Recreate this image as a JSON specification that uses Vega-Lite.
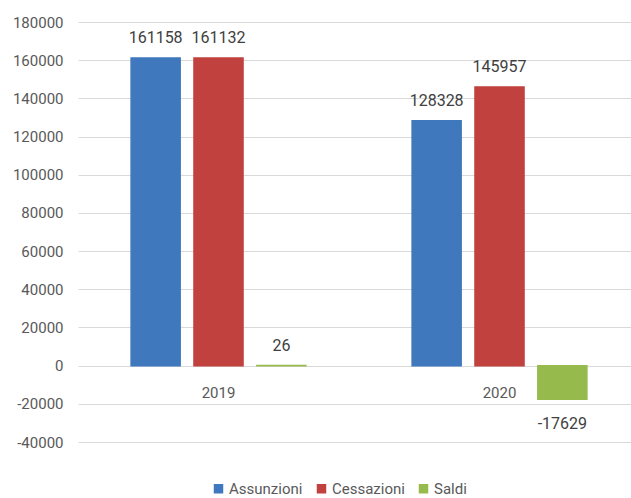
{
  "$schema": "https://vega.github.io/schema/vega-lite/v6.json",
  "width": 553,
  "height": 420,
  "autosize": {"type": "none"},
  "padding": {"left": 78, "top": 22, "right": 0, "bottom": 56},
  "background": "white",
  "config": {"view": {"stroke": null}, "font": "Roboto"},
  "data": {
    "values": [
      {"anno": "2019", "voce": "Assunzioni", "valore": 161158},
      {"anno": "2019", "voce": "Cessazioni", "valore": 161132},
      {"anno": "2019", "voce": "Saldi", "valore": 26},
      {"anno": "2020", "voce": "Assunzioni", "valore": 128328},
      {"anno": "2020", "voce": "Cessazioni", "valore": 145957},
      {"anno": "2020", "voce": "Saldi", "valore": -17629}
    ]
  },
  "encoding": {
    "x": {
      "field": "anno",
      "type": "nominal",
      "scale": {"range": [0, 562], "paddingInner": 0.378, "paddingOuter": 0.189},
      "axis": {
        "title": null,
        "domain": false,
        "ticks": false,
        "grid": false,
        "labelAngle": 0,
        "offset": -76,
        "labelPadding": 19,
        "labelFontSize": 15,
        "labelColor": "#595959"
      }
    },
    "xOffset": {
      "field": "voce",
      "type": "nominal",
      "sort": ["Assunzioni", "Cessazioni", "Saldi"],
      "scale": {"paddingInner": 0.22, "paddingOuter": 0}
    },
    "y": {
      "field": "valore",
      "type": "quantitative",
      "scale": {"domain": [-40000, 180000], "nice": false},
      "axis": {
        "title": null,
        "values": [-40000, -20000, 0, 20000, 40000, 60000, 80000, 100000, 120000, 140000, 160000, 180000],
        "labelExpr": "'' + datum.value",
        "domain": false,
        "ticks": false,
        "labelPadding": 15,
        "labelFontSize": 15,
        "labelColor": "#595959",
        "gridColor": "#d9d9d9",
        "gridWidth": 1.2
      }
    }
  },
  "layer": [
    {
      "mark": {"type": "bar", "strokeWidth": 1.5},
      "encoding": {
        "color": {
          "field": "voce",
          "type": "nominal",
          "scale": {"domain": ["Assunzioni", "Cessazioni", "Saldi"], "range": ["#3F78BC", "#C0413D", "#96BB4C"]},
          "legend": {
            "title": null,
            "orient": "none",
            "legendX": 133,
            "legendY": 459,
            "direction": "horizontal",
            "symbolType": "square",
            "symbolSize": 90,
            "symbolStrokeWidth": 0,
            "labelFontSize": 15,
            "labelColor": "#595959",
            "labelOffset": 3,
            "columnPadding": 11
          }
        },
        "stroke": {
          "field": "voce",
          "type": "nominal",
          "scale": {"domain": ["Assunzioni", "Cessazioni", "Saldi"], "range": ["#3F78BC", "#C0413D", "#96BB4C"]},
          "legend": null
        }
      }
    },
    {
      "transform": [{"filter": "datum.valore >= 0"}],
      "mark": {"type": "text", "baseline": "alphabetic", "dy": -15, "fontSize": 16, "color": "#404040"},
      "encoding": {"text": {"field": "valore", "type": "nominal"}}
    },
    {
      "transform": [{"filter": "datum.valore < 0"}],
      "mark": {"type": "text", "baseline": "top", "dy": 17, "fontSize": 16, "color": "#404040"},
      "encoding": {"text": {"field": "valore", "type": "nominal"}}
    }
  ]
}
